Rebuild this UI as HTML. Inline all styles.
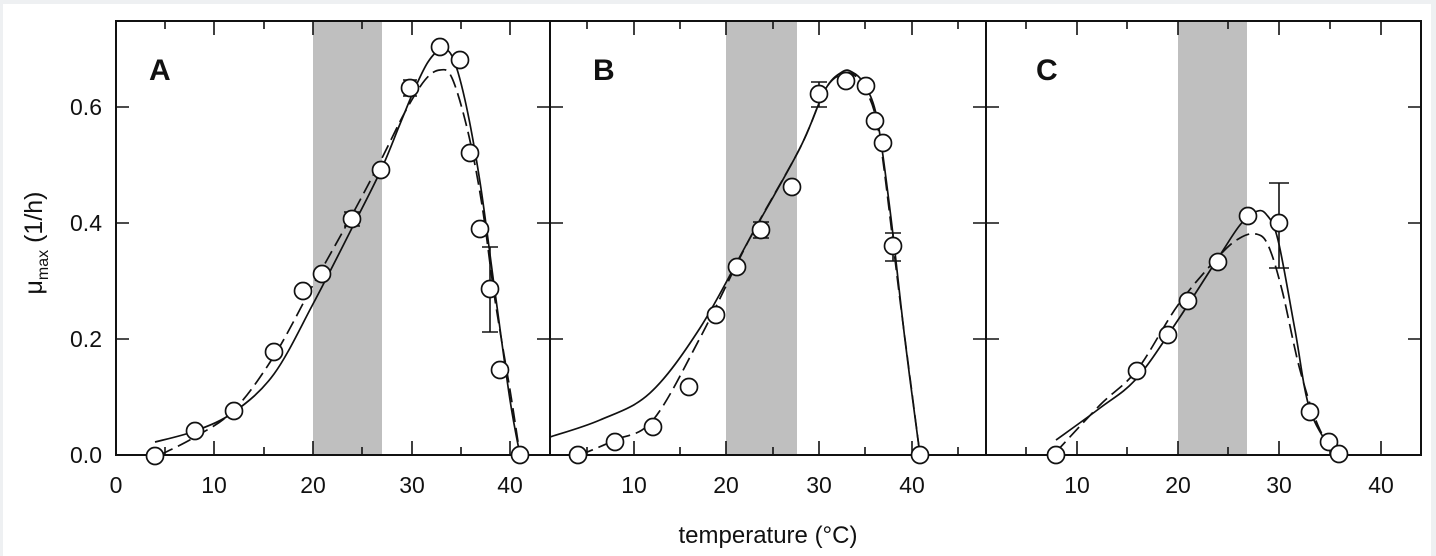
<!DOCTYPE html>
<html><head><meta charset="utf-8"><style>
html,body{margin:0;padding:0;background:#eef0f2;}
svg{display:block}
text{font-family:"Liberation Sans",sans-serif;fill:#111}
</style></head><body>
<svg id="s" width="1436" height="556" viewBox="0 0 1436 556" xmlns="http://www.w3.org/2000/svg">
<rect x="3" y="4" width="1428" height="552" fill="#fff"/>
<g fill="#bfbfbf">
<rect x="313" y="21" width="69" height="434"/>
<rect x="726" y="21" width="71" height="434"/>
<rect x="1178" y="21" width="69" height="434"/>
</g>
<g stroke="#111" stroke-width="2" fill="none">
<rect x="116" y="21" width="1305" height="434"/>
<line x1="550" y1="21" x2="550" y2="455"/>
<line x1="986" y1="21" x2="986" y2="455"/>
</g>
<g stroke="#111" stroke-width="1.6">
<path d="M165,455v-8M214,455v-14M264,455v-8M313,455v-14M362,455v-8M412,455v-14M461,455v-8M510,455v-14
M165,21v8M214,21v14M264,21v8M313,21v14M362,21v8M412,21v14M461,21v8M510,21v14"/>
<path d="M587,455v-8M634,455v-14M680,455v-8M726,455v-14M773,455v-8M819,455v-14M865,455v-8M912,455v-14M958,455v-8
M587,21v8M634,21v14M680,21v8M726,21v14M773,21v8M819,21v14M865,21v8M912,21v14M958,21v8"/>
<path d="M1026,455v-8M1077,455v-14M1127,455v-8M1178,455v-14M1228,455v-8M1279,455v-14M1330,455v-8M1381,455v-14
M1026,21v8M1077,21v14M1127,21v8M1178,21v14M1228,21v8M1279,21v14M1330,21v8M1381,21v14"/>
<path d="M116,107h13M116,223h13M116,339h13
M537,107h26M537,223h26M537,339h26
M973,107h26M973,223h26M973,339h26
M1408,107h13M1408,223h13M1408,339h13"/>
</g>
<g id="curves" fill="none" stroke="#111" stroke-width="1.7" stroke-linejoin="round">
<path data-p="155,442 195,431 234,412 274,374 313,304 352,228 381,170 400,124 415,88 428,62 440,50 452,56 465,100 480,182 495,292 510,400 520,455"/>
<path stroke-dasharray="14,6" data-p="160,455 195,437 234,410 274,356 313,285 352,215 381,160 405,112 425,80 440,70 452,78 468,132 482,205 495,300 510,390 520,455"/>
<path data-p="550,437 600,420 650,393 700,328 750,238 800,148 825,90 842,72 852,72 864,84 877,118 890,210 905,340 920,455"/>
<path stroke-dasharray="14,6" data-p="580,455 615,440 653,420 700,338 750,238 800,148 825,90 842,74 854,75 867,92 880,140 900,300 920,455"/>
<path data-p="1056,440 1100,408 1137,378 1178,320 1220,255 1240,225 1255,212 1266,214 1278,240 1295,330 1310,410 1335,455"/>
<path stroke-dasharray="14,6" data-p="1056,452 1100,405 1137,370 1178,305 1220,255 1240,238 1256,234 1268,245 1282,290 1300,370 1320,430 1340,455"/>
</g>
<g stroke="#111" stroke-width="1.6" fill="none">
<path d="M410,80v16M403,80h14M403,96h14"/>
<path d="M352,212v14M344,212h16M344,226h16"/>
<path d="M490,247v85M482,247h16M482,332h16"/>
<path d="M819,82v25M811,82h16M811,107h16"/>
<path d="M761,222v16M753,222h16M753,238h16"/>
<path d="M893,233v28M885,233h16M885,261h16"/>
<path d="M1279,183v85M1269,183h20M1269,268h20"/>
</g>
<g fill="#fff" stroke="#111" stroke-width="1.7">
<circle cx="155" cy="456" r="8.5"/><circle cx="195" cy="431" r="8.5"/><circle cx="234" cy="411" r="8.5"/><circle cx="274" cy="352" r="8.5"/><circle cx="303" cy="291" r="8.5"/><circle cx="322" cy="274" r="8.5"/><circle cx="352" cy="219" r="8.5"/><circle cx="381" cy="170" r="8.5"/><circle cx="410" cy="88" r="8.5"/><circle cx="440" cy="47" r="8.5"/><circle cx="460" cy="60" r="8.5"/><circle cx="470" cy="153" r="8.5"/><circle cx="480" cy="229" r="8.5"/><circle cx="490" cy="289" r="8.5"/><circle cx="500" cy="370" r="8.5"/><circle cx="520" cy="455" r="8.5"/>
<circle cx="578" cy="455" r="8.5"/><circle cx="615" cy="442" r="8.5"/><circle cx="653" cy="427" r="8.5"/><circle cx="689" cy="387" r="8.5"/><circle cx="716" cy="315" r="8.5"/><circle cx="737" cy="267" r="8.5"/><circle cx="761" cy="230" r="8.5"/><circle cx="792" cy="187" r="8.5"/><circle cx="819" cy="94" r="8.5"/><circle cx="846" cy="81" r="8.5"/><circle cx="866" cy="86" r="8.5"/><circle cx="875" cy="121" r="8.5"/><circle cx="883" cy="143" r="8.5"/><circle cx="893" cy="246" r="8.5"/><circle cx="920" cy="455" r="8.5"/>
<circle cx="1056" cy="455" r="8.5"/><circle cx="1137" cy="371" r="8.5"/><circle cx="1168" cy="335" r="8.5"/><circle cx="1188" cy="301" r="8.5"/><circle cx="1218" cy="262" r="8.5"/><circle cx="1248" cy="216" r="8.5"/><circle cx="1279" cy="223" r="8.5"/><circle cx="1310" cy="412" r="8.5"/><circle cx="1329" cy="442" r="8.5"/><circle cx="1339" cy="454" r="8.5"/>
</g>
<g font-size="23" text-anchor="middle">
<text x="116" y="493">0</text><text x="214" y="493">10</text><text x="313" y="493">20</text><text x="412" y="493">30</text><text x="510" y="493">40</text>
<text x="634" y="493">10</text><text x="726" y="493">20</text><text x="819" y="493">30</text><text x="912" y="493">40</text>
<text x="1077" y="493">10</text><text x="1178" y="493">20</text><text x="1279" y="493">30</text><text x="1381" y="493">40</text>
</g>
<g font-size="23" text-anchor="end">
<text x="102" y="115">0.6</text><text x="102" y="231">0.4</text><text x="102" y="347">0.2</text><text x="102" y="463">0.0</text>
</g>
<text x="768" y="543" font-size="24" text-anchor="middle">temperature (°C)</text>
<text transform="translate(42,243) rotate(-90)" font-size="25" text-anchor="middle">μ<tspan font-size="16" dy="6">max</tspan><tspan dy="-6"> (1/h)</tspan></text>
<g font-size="30" font-weight="bold">
<text x="149" y="80">A</text><text x="593" y="80">B</text><text x="1036" y="80">C</text>
</g>
</svg>
<script>
document.querySelectorAll('#curves path').forEach(function(el){
  var p=el.getAttribute('data-p').trim().split(/\s+/).map(function(s){return s.split(',').map(Number);});
  var d='M'+p[0][0]+','+p[0][1];
  for(var i=0;i<p.length-1;i++){
    var p0=p[i>0?i-1:0],p1=p[i],p2=p[i+1],p3=p[i+2<p.length?i+2:i+1];
    var c1x=p1[0]+(p2[0]-p0[0])/6,c1y=p1[1]+(p2[1]-p0[1])/6;
    var c2x=p2[0]-(p3[0]-p1[0])/6,c2y=p2[1]-(p3[1]-p1[1])/6;
    d+=' C'+c1x.toFixed(1)+','+c1y.toFixed(1)+' '+c2x.toFixed(1)+','+c2y.toFixed(1)+' '+p2[0]+','+p2[1];
  }
  el.setAttribute('d',d);el.removeAttribute('data-p');
});
</script>
</body></html>
